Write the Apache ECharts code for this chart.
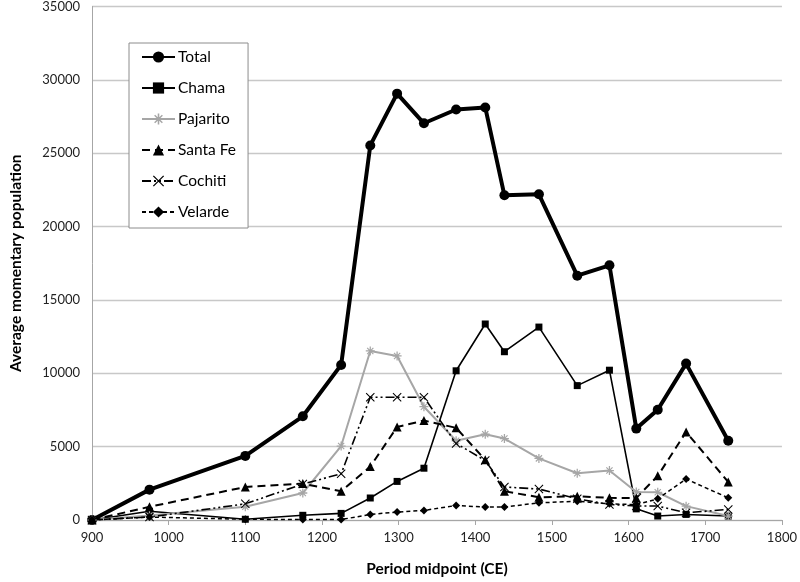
<!DOCTYPE html>
<html>
<head>
<meta charset="utf-8">
<script src="https://cdn.jsdelivr.net/npm/echarts@6/dist/echarts.min.js"></script>
<style>
html,body{margin:0;padding:0;background:#fff;}
#chart{width:800px;height:582px;}
</style>
</head>
<body>
<div id="chart"></div>
<script>
// Data
var years = [900, 975, 1100, 1175, 1225, 1263, 1298, 1333, 1375, 1413, 1438, 1483, 1533, 1575, 1610, 1638, 1675, 1730];
var total = [0, 2070, 4370, 7070, 10570, 25530, 29060, 27040, 27980, 28120, 22130, 22200, 16650, 17360, 6230, 7510, 10660, 5400];
var chama = [0, 600, 50, 320, 450, 1500, 2630, 3530, 10170, 13360, 11470, 13150, 9160, 10210, 760, 270, 380, 270];
var pajarito = [0, 300, 900, 1840, 5040, 11520, 11180, 7720, 5400, 5850, 5550, 4200, 3190, 3370, 1910, 1890, 945, 270];
var santaFe = [0, 900, 2250, 2480, 1960, 3640, 6340, 6780, 6280, 4100, 1960, 1550, 1620, 1510, 1500, 3010, 6000, 2590];
var cochiti = [0, 200, 1100, 2450, 3150, 8370, 8370, 8370, 5220, 4050, 2250, 2110, 1440, 1060, 950, 950, 490, 720];
var velarde = [0, 200, 50, 30, 30, 380, 540, 650, 990, 880, 880, 1170, 1280, 1100, 1050, 1440, 2790, 1510];
var seriesNames = ['Total', 'Chama', 'Pajarito', 'Santa Fe', 'Cochiti', 'Velarde'];
var xTicks = {min: 900, max: 1800, step: 100};
var yTicks = {min: 0, max: 35000, step: 5000};

function pairs(vals) {
  return years.map(function (y, i) { return [y, vals[i]]; });
}

var asterisk = 'path://M-0.7,-5 L0.7,-5 L0.7,5 L-0.7,5 Z M-5,-0.7 L5,-0.7 L5,0.7 L-5,0.7 Z M-3.9,-3.0 L-3.0,-3.9 L3.9,3.0 L3.0,3.9 Z M3.0,-3.9 L3.9,-3.0 L-3.0,3.9 L-3.9,3.0 Z';
var cross = 'path://M-4.3,-3.6 L-3.6,-4.3 L4.3,3.6 L3.6,4.3 Z M3.6,-4.3 L4.3,-3.6 L-3.6,4.3 L-4.3,3.6 Z';

var FONT = 'Lato, "Open Sans", sans-serif';
var chart = echarts.init(document.getElementById('chart'), null, {renderer: 'canvas'});

var option = {
  animation: false,
  backgroundColor: '#ffffff',
  grid: {left: 90, right: 14, top: 5, bottom: 58, containLabel: false},
  legend: {
    orient: 'vertical',
    left: 129,
    top: 43,
    padding: [6, 12, 8, 12],
    itemGap: 15,
    itemWidth: 33,
    itemHeight: 14,
    borderColor: '#8c8c8c',
    borderWidth: 1,
    backgroundColor: '#ffffff',
    textStyle: {fontFamily: FONT, fontSize: 15.5, color: '#000', padding: [0, 0, 0, -2]},
    data: seriesNames
  },
  xAxis: {
    type: 'value',
    min: xTicks.min, max: xTicks.max, interval: xTicks.step,
    name: 'Period midpoint (CE)',
    nameLocation: 'middle',
    nameGap: 41,
    nameTextStyle: {fontFamily: FONT, fontSize: 15.5, fontWeight: 'bold', color: '#000'},
    axisLine: {lineStyle: {color: '#a6a6a6', width: 1}},
    axisTick: {show: true, length: 5, lineStyle: {color: '#a6a6a6'}},
    axisLabel: {fontFamily: FONT, fontSize: 13, color: '#222', margin: 11,
      formatter: function (v) { return String(v); }},
    splitLine: {show: false}
  },
  yAxis: {
    type: 'value',
    min: yTicks.min, max: yTicks.max, interval: yTicks.step,
    name: 'Average momentary population',
    nameLocation: 'middle',
    nameGap: 68,
    nameRotate: 90,
    nameTextStyle: {fontFamily: FONT, fontSize: 15.5, fontWeight: 'bold', color: '#000'},
    axisLine: {show: true, lineStyle: {color: '#a6a6a6', width: 1}},
    axisTick: {show: false},
    axisLabel: {fontFamily: FONT, fontSize: 13, color: '#222', margin: 12,
      formatter: function (v) { return String(v); }},
    splitLine: {show: true, lineStyle: {color: '#c8c8c8', width: 1.3}}
  },
  series: [
    {
      name: 'Total', type: 'line', data: pairs(total),
      symbol: 'circle', symbolSize: 10,
      lineStyle: {color: '#000', width: 4},
      itemStyle: {color: '#000'}
    },
    {
      name: 'Chama', type: 'line', data: pairs(chama),
      symbol: 'rect', symbolSize: 7,
      lineStyle: {color: '#000', width: 1.6},
      itemStyle: {color: '#000'}
    },
    {
      name: 'Pajarito', type: 'line', data: pairs(pajarito),
      symbol: asterisk, symbolSize: 9,
      lineStyle: {color: '#a6a6a6', width: 2},
      itemStyle: {color: '#a6a6a6'}
    },
    {
      name: 'Santa Fe', type: 'line', data: pairs(santaFe),
      symbol: 'triangle', symbolSize: 9,
      lineStyle: {color: '#000', width: 2, type: [8, 5]},
      itemStyle: {color: '#000'}
    },
    {
      name: 'Cochiti', type: 'line', data: pairs(cochiti),
      symbol: cross, symbolSize: 9,
      lineStyle: {color: '#000', width: 1.6, type: [9, 3, 2, 3, 2, 3]},
      itemStyle: {color: '#000'}
    },
    {
      name: 'Velarde', type: 'line', data: pairs(velarde),
      symbol: 'diamond', symbolSize: 8,
      lineStyle: {color: '#000', width: 1.5, type: [4, 3]},
      itemStyle: {color: '#000'}
    }
  ]
};
chart.setOption(option);
</script>
</body>
</html>
